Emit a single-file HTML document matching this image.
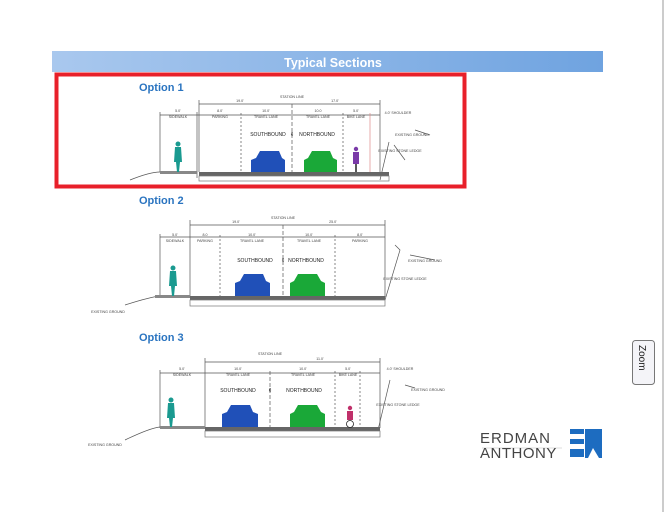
<!DOCTYPE html>
<html><head><meta charset="utf-8"><style>
body{margin:0;width:665px;height:512px;background:#fff;overflow:hidden;font-family:"Liberation Sans",sans-serif}
svg{position:absolute;left:0;top:0}
</style></head><body>
<svg width="665" height="512" viewBox="0 0 665 512" xmlns="http://www.w3.org/2000/svg" font-family="Liberation Sans, sans-serif">
<defs><linearGradient id="hb" x1="0" x2="1"><stop offset="0" stop-color="#a9c8ee"/><stop offset="1" stop-color="#6fa3e0"/></linearGradient></defs>
<line x1="663" y1="0" x2="663" y2="512" stroke="#999" stroke-width="1"/>
<rect x="52" y="51" width="551" height="21" fill="url(#hb)"/>
<text x="333" y="67" fill="#fff" font-size="12.5" font-weight="bold" text-anchor="middle">Typical Sections</text>
<rect x="56.5" y="74.5" width="408" height="112" fill="none" stroke="#e8202a" stroke-width="4"/>
<g font-weight="bold" fill="#2a74c0" font-size="11">
<text x="139" y="91">Option 1</text><text x="139" y="204">Option 2</text><text x="139" y="341">Option 3</text></g>

<!-- Option1 -->
<g stroke="#555" stroke-width="0.7" fill="none">
<line x1="199" y1="104" x2="380" y2="104"/><line x1="160" y1="115" x2="380" y2="115"/>
<line x1="160" y1="112" x2="160" y2="172"/><line x1="197" y1="112" x2="197" y2="172"/><line x1="199" y1="100" x2="199" y2="172"/>
<line x1="241" y1="113" x2="241" y2="172" stroke-dasharray="2,2"/><line x1="292" y1="104" x2="292" y2="172" stroke-dasharray="4,2"/>
<line x1="343" y1="113" x2="343" y2="172" stroke-dasharray="2,2"/><line x1="380" y1="100" x2="380" y2="172"/><line x1="370" y1="113" x2="370" y2="172" stroke="#d88"/>
<path d="M389 142 L380 180"/><path d="M415 130 L430 135"/><path d="M394 145 L405 160"/>
<path d="M130 180 Q150 172 160 172 L197 172 L197 178"/>
</g>
<rect x="199" y="172" width="190" height="4" fill="#666"/><rect x="199" y="176" width="190" height="5" fill="none" stroke="#777" stroke-width="0.7"/>
<rect x="160" y="171" width="37" height="3" fill="#888"/>
<g font-size="3.6" fill="#444" text-anchor="middle">
<text x="292" y="98">STATION LINE</text><text x="240" y="102">19.0'</text><text x="335" y="102">17.0'</text>
<text x="178" y="112">5.0'</text><text x="178" y="118">SIDEWALK</text><text x="220" y="112">8.0'</text><text x="220" y="118">PARKING</text>
<text x="266" y="112">10.0'</text><text x="266" y="118">TRAVEL LANE</text><text x="318" y="112">10.0</text><text x="318" y="118">TRAVEL LANE</text>
<text x="356" y="112">5.0'</text><text x="356" y="118">BIKE LANE</text><text x="398" y="114">4.0' SHOULDER</text><text x="412" y="136">EXISTING GROUND</text><text x="400" y="152">EXISTING STONE LEDGE</text></g>
<g font-size="5" fill="#222" text-anchor="middle"><text x="268" y="136">SOUTHBOUND</text><text x="317" y="136">NORTHBOUND</text><text x="292" y="136">¢</text></g>
<path d="M251 172 L251 160 L256 158 L260 151 L279 151 L282 158 L285 160 L285 172 Z" fill="#2050b8"/>
<path d="M304 172 L304 160 L308 158 L312 151 L330 151 L333 158 L337 160 L337 172 Z" fill="#1aa838"/>
<g fill="#1a9a90"><circle cx="178" cy="144" r="2.5"/><path d="M175 147 L181 147 L182 162 L180 162 L179 172 L177 172 L176 162 L174 162Z"/></g>
<g fill="#7a3aa8"><circle cx="356" cy="149" r="2.2"/><path d="M353 152 L359 152 L359 164 L353 164Z"/></g>
<line x1="356" y1="164" x2="356" y2="172" stroke="#222" stroke-width="1.5"/>

<!-- Option2 -->
<g stroke="#555" stroke-width="0.7" fill="none">
<line x1="190" y1="225" x2="385" y2="225"/><line x1="160" y1="237" x2="385" y2="237"/>
<line x1="160" y1="234" x2="160" y2="295"/><line x1="190" y1="220" x2="190" y2="297"/>
<line x1="220" y1="235" x2="220" y2="297" stroke-dasharray="2,2"/><line x1="283" y1="225" x2="283" y2="297" stroke-dasharray="4,2"/>
<line x1="335" y1="235" x2="335" y2="297" stroke-dasharray="2,2"/><line x1="385" y1="220" x2="385" y2="297"/>
<path d="M395 245 L400 250 L385 300"/><path d="M410 255 L435 260"/><path d="M125 305 Q150 297 160 296"/>
</g>
<rect x="190" y="296" width="195" height="4" fill="#666"/><rect x="190" y="300" width="195" height="6" fill="none" stroke="#777" stroke-width="0.7"/>
<rect x="155" y="295" width="35" height="3" fill="#888"/>
<g font-size="3.6" fill="#444" text-anchor="middle">
<text x="283" y="219">STATION LINE</text><text x="236" y="223">19.0'</text><text x="333" y="223">25.0'</text>
<text x="175" y="236">5.0'</text><text x="175" y="242">SIDEWALK</text><text x="205" y="236">8.0</text><text x="205" y="242">PARKING</text>
<text x="252" y="236">10.0'</text><text x="252" y="242">TRAVEL LANE</text><text x="309" y="236">10.0'</text><text x="309" y="242">TRAVEL LANE</text>
<text x="360" y="236">8.0'</text><text x="360" y="242">PARKING</text><text x="425" y="262">EXISTING GROUND</text><text x="405" y="280">EXISTING STONE LEDGE</text><text x="108" y="313">EXISTING GROUND</text></g>
<g font-size="5" fill="#222" text-anchor="middle"><text x="255" y="262">SOUTHBOUND</text><text x="306" y="262">NORTHBOUND</text><text x="283" y="262">¢</text></g>
<path d="M235 296 L235 283 L240 281 L244 274 L263 274 L266 281 L270 283 L270 296 Z" fill="#2050b8"/>
<path d="M290 296 L290 283 L294 281 L298 274 L317 274 L321 281 L325 283 L325 296 Z" fill="#1aa838"/>
<g fill="#1a9a90"><circle cx="173" cy="268" r="2.5"/><path d="M170 271 L176 271 L177 286 L175 286 L174 296 L172 296 L171 286 L169 286Z"/></g>

<!-- Option3 -->
<g stroke="#555" stroke-width="0.7" fill="none">
<line x1="205" y1="362" x2="380" y2="362"/><line x1="160" y1="373" x2="380" y2="373"/>
<line x1="160" y1="370" x2="160" y2="428"/><line x1="205" y1="358" x2="205" y2="428"/>
<line x1="270" y1="371" x2="270" y2="428" stroke-dasharray="4,2"/><line x1="335" y1="371" x2="335" y2="428" stroke-dasharray="2,2"/>
<line x1="360" y1="371" x2="360" y2="428" stroke-dasharray="2,2"/><line x1="380" y1="358" x2="380" y2="428"/>
<path d="M390 380 L378 430"/><path d="M405 385 L415 388"/><path d="M125 440 Q150 428 160 427"/>
</g>
<rect x="205" y="427" width="175" height="4" fill="#666"/><rect x="205" y="431" width="175" height="6" fill="none" stroke="#777" stroke-width="0.7"/>
<rect x="160" y="426" width="45" height="3" fill="#888"/>
<g font-size="3.6" fill="#444" text-anchor="middle">
<text x="270" y="355">STATION LINE</text><text x="320" y="360">11.0'</text>
<text x="182" y="370">5.0'</text><text x="182" y="376">SIDEWALK</text><text x="238" y="370">10.0'</text><text x="238" y="376">TRAVEL LANE</text>
<text x="303" y="370">10.0'</text><text x="303" y="376">TRAVEL LANE</text><text x="348" y="370">5.0'</text><text x="348" y="376">BIKE LANE</text>
<text x="400" y="370">4.0' SHOULDER</text><text x="428" y="391">EXISTING GROUND</text><text x="398" y="406">EXISTING STONE LEDGE</text><text x="105" y="446">EXISTING GROUND</text></g>
<g font-size="5" fill="#222" text-anchor="middle"><text x="238" y="392">SOUTHBOUND</text><text x="304" y="392">NORTHBOUND</text><text x="270" y="392">¢</text></g>
<path d="M222 427 L222 414 L227 412 L231 405 L250 405 L253 412 L258 414 L258 427 Z" fill="#2050b8"/>
<path d="M290 427 L290 414 L294 412 L298 405 L317 405 L321 412 L325 414 L325 427 Z" fill="#1aa838"/>
<g fill="#1a9a90"><circle cx="171" cy="400" r="2.5"/><path d="M168 403 L174 403 L175 418 L173 418 L172 427 L170 427 L169 418 L167 418Z"/></g>
<g fill="#c0306a"><circle cx="350" cy="408" r="2.2"/><path d="M347 411 L353 411 L353 420 L347 420Z"/></g>
<circle cx="350" cy="424" r="3.5" fill="none" stroke="#222" stroke-width="0.8"/>

<text x="480" y="443" font-size="15" fill="#444" letter-spacing="1">ERDMAN</text>
<line x1="482" y1="448" x2="562" y2="448" stroke="#bbb" stroke-width="0.6"/>
<text x="480" y="458" font-size="15" fill="#444" letter-spacing="0.5">ANTHONY</text>
<rect x="570" y="429" width="14" height="5" fill="#1d6cc0"/><rect x="570" y="439" width="14" height="5" fill="#1d6cc0"/><rect x="570" y="449" width="14" height="8" fill="#1d6cc0"/>
<path d="M585 429 L602 429 L602 458 L599 458 L593 448 L588 458 L585 458 Z" fill="#1d6cc0"/>
<rect x="632.5" y="340.5" width="22" height="44" rx="3" fill="#f4f4f8" stroke="#777"/>
<text x="0" y="0" font-size="10" fill="#222" transform="translate(639,345) rotate(90)">Zoom</text>
</svg>
</body></html>
